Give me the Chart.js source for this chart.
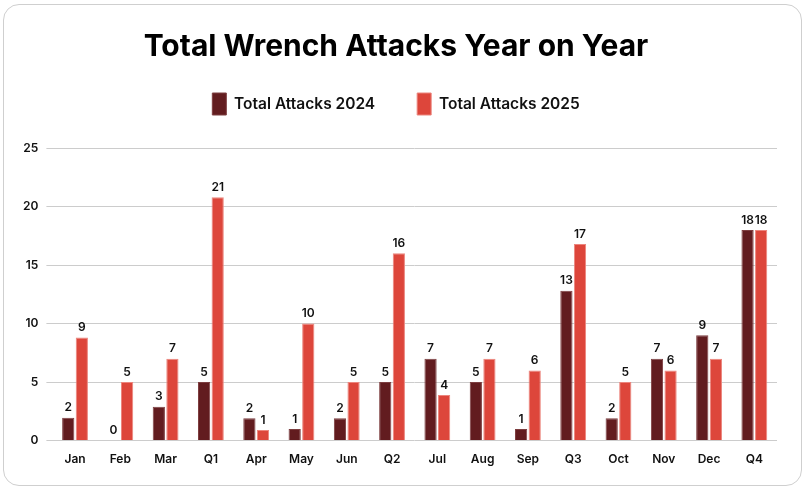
<!DOCTYPE html>
<html>
<head>
<meta charset="utf-8">
<script src="https://cdn.jsdelivr.net/npm/chart.js@4"></script>
<style>
    html, body { margin: 0; padding: 0; background: #fff; }
    #card {
        position: absolute; left: 3px; top: 4px; width: 797px; height: 480px;
        border: 1.5px solid #cfcfcf; border-radius: 16px; background: #fff;
    }
    #wrap { position: absolute; left: 0; top: 0; width: 809px; height: 492px; }
</style>
</head>
<body>
<div id="card"></div>
<div id="wrap"><canvas id="wrenchChart" width="809" height="492"></canvas></div>
<script>
// categories and values
const categories = ['Jan', 'Feb', 'Mar', 'Q1', 'Apr', 'May', 'Jun', 'Q2', 'Jul', 'Aug', 'Sep', 'Q3', 'Oct', 'Nov', 'Dec', 'Q4'];
const attacks2024 = [1.95, 0, 2.9, 5, 1.9, 1, 1.9, 5, 7, 5, 1, 12.8, 1.9, 7, 9, 18];
const attacks2025 = [8.8, 5, 7, 20.8, 0.9, 10, 5, 16, 3.9, 7, 6, 16.8, 5, 6, 7, 18];
const yTicks = [0, 5, 10, 15, 20, 25];

const FONT = "Inter, 'Noto Sans', sans-serif";

// draws the value above every bar (no datalabels plugin available offline)
const barLabels = {
    id: 'barLabels',
    afterDatasetsDraw(chart) {
        const ctx = chart.ctx;
        ctx.save();
        ctx.font = `600 12px ${FONT}`;
        ctx.fillStyle = '#111';
        ctx.textAlign = 'center';
        ctx.textBaseline = 'bottom';
        chart.data.datasets.forEach((ds, i) => {
            chart.getDatasetMeta(i).data.forEach((bar, j) => {
                ctx.fillText(Math.round(ds.data[j]), bar.x, bar.y - 4);
            });
        });
        ctx.restore();
    }
};

// extra room under the legend
const legendGap = {
    id: 'legendGap',
    beforeInit(chart) {
        const origFit = chart.legend.fit;
        chart.legend.fit = function () {
            origFit.bind(chart.legend)();
            this.height += 23;
        };
    }
};

new Chart(document.getElementById('wrenchChart').getContext('2d'), {
    type: 'bar',
    data: {
        labels: categories,
        datasets: [{
            label: 'Total Attacks 2024',
            data: attacks2024,
            backgroundColor: '#621c1f',
            borderColor: '#7d3e40',
            borderWidth: 1,
            categoryPercentage: 0.6,
            barPercentage: 0.9
        }, {
            label: 'Total Attacks 2025',
            data: attacks2025,
            backgroundColor: '#dd463b',
            borderColor: '#ec857d',
            borderWidth: 1,
            categoryPercentage: 0.6,
            barPercentage: 0.9
        }]
    },
    options: {
        responsive: false,
        animation: false,
        layout: { padding: { top: 10, left: 15, right: 32, bottom: 21 } },
        plugins: {
            title: {
                display: true,
                text: 'Total Wrench Attacks Year on Year',
                color: '#000',
                font: { family: FONT, size: 30, weight: '700' },
                padding: { top: 19, bottom: -14 }
            },
            legend: {
                labels: {
                    boxWidth: 14,
                    boxHeight: 22,
                    padding: 42,
                    color: '#111',
                    font: { family: FONT, size: 15.5, weight: '600' }
                }
            },
            tooltip: { enabled: false }
        },
        scales: {
            x: {
                grid: { display: false },
                border: { display: false },
                ticks: {
                    color: '#111',
                    padding: 4,
                    font: { family: FONT, size: 12, weight: '600' }
                }
            },
            y: {
                min: yTicks[0],
                max: yTicks[yTicks.length - 1],
                afterBuildTicks: axis => { axis.ticks = yTicks.map(v => ({ value: v })); },
                grid: { color: '#cccccc', lineWidth: 1, drawTicks: true, tickLength: 6, tickColor: '#cccccc' },
                border: { display: false },
                ticks: {
                    color: '#111',
                    padding: 8,
                    font: { family: FONT, size: 12, weight: '600' }
                }
            }
        }
    },
    plugins: [barLabels, legendGap]
});
</script>
</body>
</html>
